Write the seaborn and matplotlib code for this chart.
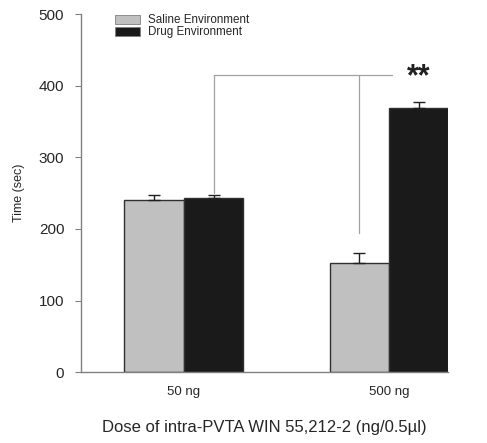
import matplotlib
matplotlib.use("Agg")
import matplotlib.pyplot as plt
import seaborn as sns
import pandas as pd
import numpy as np

doses = ["50 ng", "500 ng"]
environments = ["Saline Environment", "Drug Environment"]
saline_vals = [241, 152]
drug_vals = [243, 369]
saline_err = [7, 14]
drug_err = [5, 8]
colors = ["#c0c0c0", "#1a1a1a"]

rows = []
for i, d in enumerate(doses):
    rows.append({"Dose": d, "Env": environments[0], "Time": saline_vals[i], "err": saline_err[i]})
    rows.append({"Dose": d, "Env": environments[1], "Time": drug_vals[i], "err": drug_err[i]})
df = pd.DataFrame(rows)

sns.set_style("white")
plt.rcParams['font.family'] = ['Liberation Sans', 'DejaVu Sans']

fig = plt.figure(figsize=(4.87, 4.43), dpi=100)
ax = fig.add_axes([0.1663, 0.160, 0.7537, 0.808])

sns.barplot(data=df, x="Dose", y="Time", hue="Env", order=doses, hue_order=environments,
            palette=colors, width=0.58, errorbar=None, edgecolor="#303030", linewidth=1.0,
            ax=ax, legend=True)

# error bars (upper only), positioned from bar patches
errs = {environments[0]: saline_err, environments[1]: drug_err}
bar_info = []
for cont, env in zip(ax.containers, environments):
    for j, p in enumerate(cont.patches):
        xc = p.get_x() + p.get_width() / 2
        h = p.get_height()
        e = errs[env][j]
        ax.errorbar(xc, h, yerr=[[0], [e]], fmt="none", ecolor="#202020", elinewidth=1.0,
                    capsize=4, capthick=1.0, zorder=3)
        bar_info.append((env, j, xc, h, e))

# significance bracket
x_left = [b for b in bar_info if b[0] == environments[1] and b[1] == 0][0][2]
x_mid = [b for b in bar_info if b[0] == environments[0] and b[1] == 1][0][2]
x_right = [b for b in bar_info if b[0] == environments[1] and b[1] == 1][0][2]
y_br = 415
ax.plot([x_left, x_left], [250, y_br], color="#a0a0a0", lw=0.9)
ax.plot([x_left, x_mid + 0.16], [y_br, y_br], color="#a0a0a0", lw=0.9)
ax.plot([x_mid, x_mid], [195, y_br], color="#a0a0a0", lw=0.9)
ax.text(x_right, y_br - 3, "**", ha="center", va="center", fontsize=22, fontweight="bold",
        color="#202020")

ax.set_ylim(0, 500)
ax.set_xlim(-0.502, 1.288)
ax.set_yticks([0, 100, 200, 300, 400, 500])
ax.tick_params(axis="y", labelsize=11, length=4, width=0.8, color="#808080", left=True, pad=8)
ax.tick_params(axis="x", labelsize=9.5, length=0, pad=10)
ax.set_ylabel("Time (sec)", fontsize=9, labelpad=10)
ax.set_xlabel("Dose of intra-PVTA WIN 55,212-2 (ng/0.5\u00b5l)", fontsize=12, labelpad=16)

for s in ["top", "right"]:
    ax.spines[s].set_visible(False)
for s in ["left", "bottom"]:
    ax.spines[s].set_color("#808080")
    ax.spines[s].set_linewidth(1.0)

leg = ax.legend(loc="upper left", bbox_to_anchor=(0.093, 1.0), frameon=False, fontsize=8.4,
                handlelength=2.1, handleheight=0.8, labelspacing=0.0, borderaxespad=0,
                borderpad=0, handletextpad=0.75)
for h in leg.legend_handles:
    h.set_edgecolor("#808080")
    h.set_linewidth(0.6)

fig.savefig("out.png", dpi=100)
